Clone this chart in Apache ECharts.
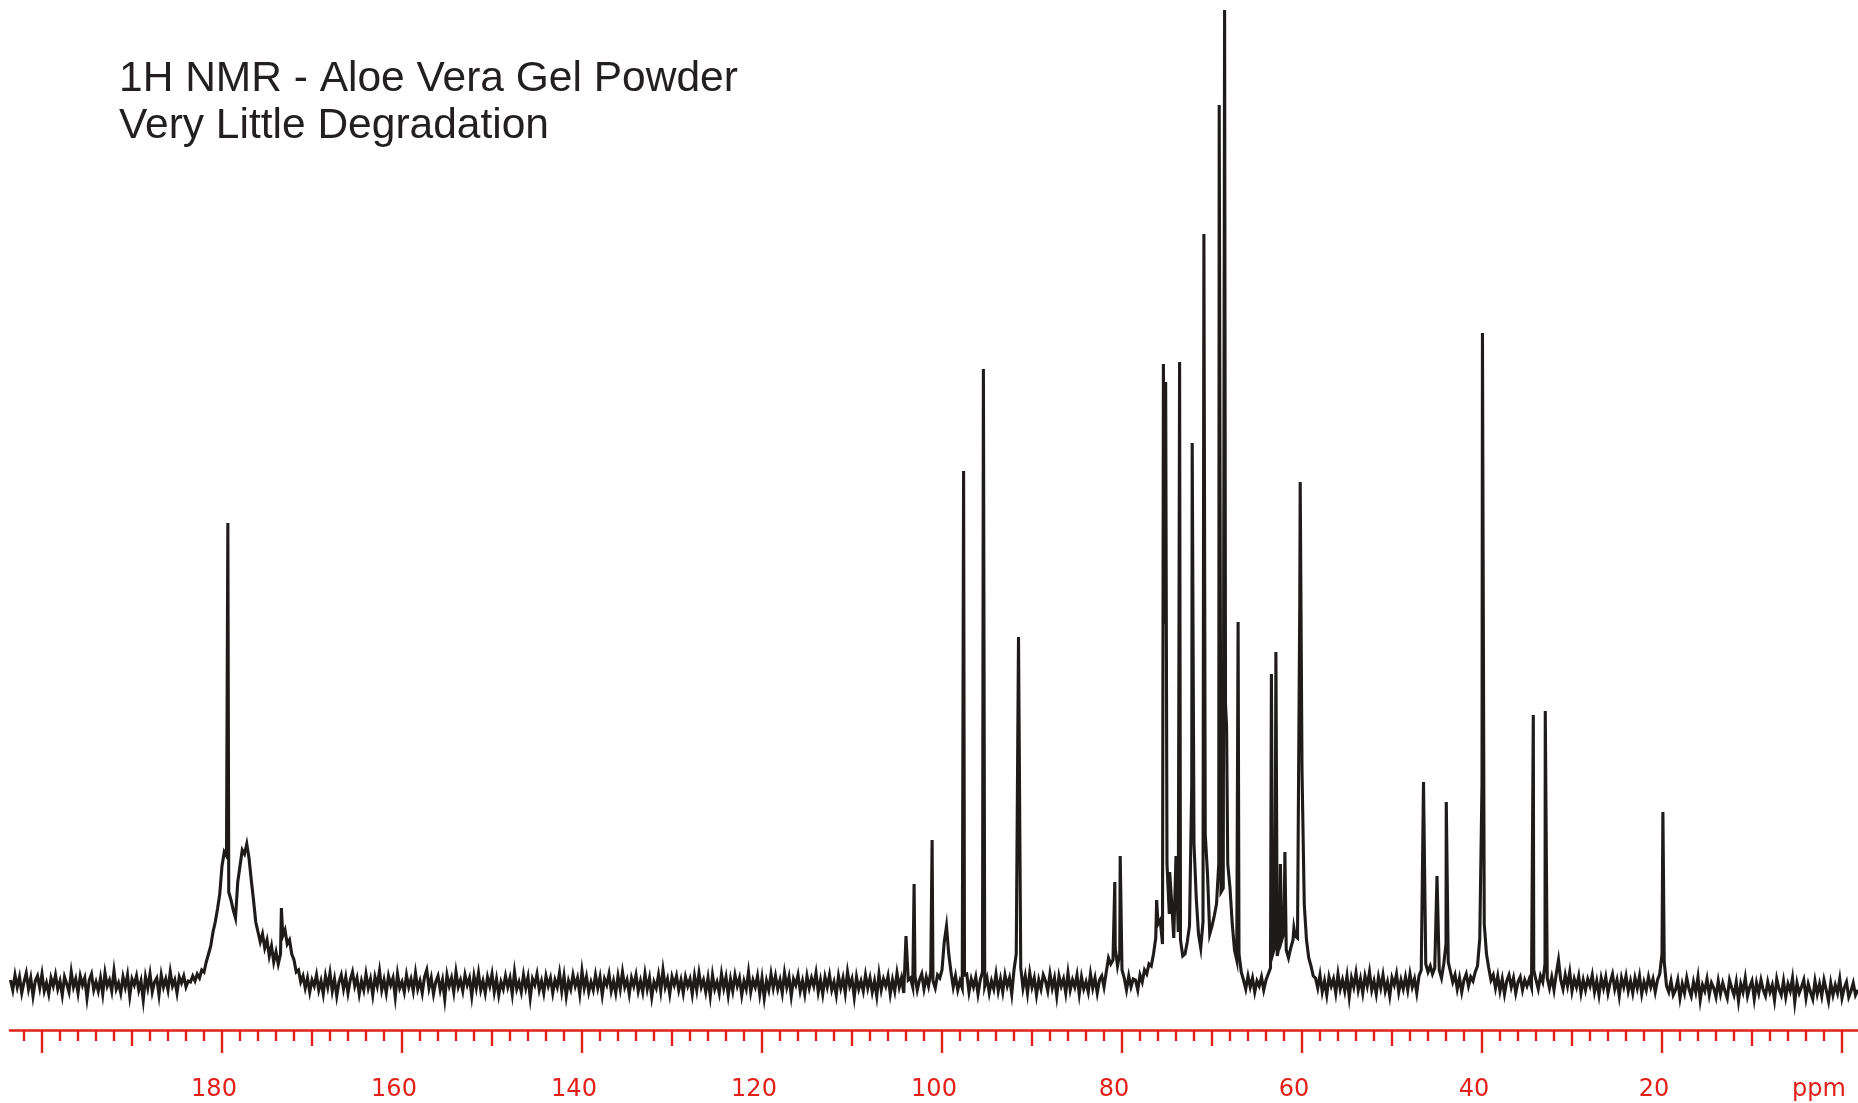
<!DOCTYPE html>
<html>
<head>
<meta charset="utf-8">
<script src="https://cdn.jsdelivr.net/npm/echarts@6/dist/echarts.min.js"></script>
<style>
html,body{margin:0;padding:0;background:#fff;}
#chart{width:1858px;height:1103px;}
</style>
</head>
<body>
<div id="chart"></div>
<script>
// ---- Data ----
const titleLines = ['1H NMR - Aloe Vera Gel Powder', 'Very Little Degradation'];

// Spectrum sampled every 0.25 ppm; each row covers 5 ppm starting at rowStartPpm
const rowStartPpm = 203.5;
const sampleStep = 0.25;
const spectrumRows = [
  [4,-6,9,-3,7,-9,2,11,-5,6,-12,3,8,-4,10,-7,1,-10,6,-2],          // 203.5
  [9,-5,3,-11,7,0,-8,12,-3,5,-9,8,-1,6,-14,4,10,-6,2,-7],          // 198.5
  [6,-10,11,-2,4,-7,13,-5,1,-9,7,-3,9,-12,5,-1,8,-6,3,-16],        // 193.5
  [7,-4,10,-8,2,6,-11,9,-3,5,-6,12,-2,4,-9,7,1,8,-3,3],            // 188.5
  [2,8,3,10,6,14,12,22,30,38,52,62,75,90,118,132,128,92,84,74],    // 183.5
  [66,102,118,134,130,140,126,104,84,62,52,42,50,36,44,28,38,22,32,20], // 178.5
  [30,48,54,40,44,30,24,12,14,2,8,-4,6,-8,4,-2,9,-6,3,-10],        // 173.5
  [8,-3,11,-7,5,-12,2,9,-5,7,-9,4,12,-2,6,-10,3,-6,10,-4],         // 168.5
  [5,-11,7,-2,13,-6,4,-9,8,-1,6,-13,10,-4,2,-8,9,-3,5,-7],         // 163.5
  [11,-5,3,-9,7,14,-4,6,-10,2,8,-6,4,-15,9,-2,6,-8,12,-3],         // 158.5
  [4,-7,9,-1,6,-12,8,-4,11,-6,3,-9,7,-2,10,-8,5,-11,2,-5],         // 153.5
  [8,-3,6,-10,12,-5,2,-8,9,-4,7,-14,5,-1,10,-6,3,-9,8,-2],         // 148.5
  [6,-9,4,-3,11,-7,8,-12,3,-5,9,-2,6,-10,13,-4,7,-8,2,-6],         // 143.5
  [9,-4,7,-11,5,-1,10,-7,3,-9,8,-5,12,-3,4,-10,6,-2,9,-7],         // 138.5
  [3,-8,10,-5,6,-13,2,-4,9,-7,14,-3,5,-10,7,-1,8,-6,4,-9],         // 133.5
  [7,-2,5,-10,8,-6,11,-3,4,-8,6,-12,9,-5,2,-9,10,-4,7,-11],        // 128.5
  [5,-7,9,-2,6,-11,3,-5,12,-8,4,-3,8,-10,6,-14,3,-6,10,-4],        // 123.5
  [8,-5,4,-9,11,-3,7,-12,5,-1,9,-7,3,-10,8,-4,6,-2,11,-8],         // 118.5
  [4,-10,7,-3,9,-6,2,-11,8,-4,6,-9,12,-2,5,-13,7,-5,3,-7],         // 113.5
  [9,-4,6,-8,3,-12,10,-6,5,-2,8,-10,4,-7,11,-3,6,-9,2,4],          // 108.5
  [6,-3,8,-6,4,10,-5,7,-2,12,3,-4,9,6,14,42,58,30,12,-3],          // 103.5
  [8,-6,3,-4,9,10,-8,5,-3,7,-10,4,12,-2,6,-9,3,-5,10,-7],          // 98.5
  [5,-8,9,-2,6,-10,14,30,30,16,-4,8,-9,11,-3,6,-11,4,-5,9],        // 93.5
  [3,-7,10,-4,6,-12,8,-2,5,-9,11,-6,4,-3,9,-10,7,-5,2,-8],         // 88.5
  [10,-4,6,-9,4,8,-3,12,26,20,24,36,18,30,14,6,-6,8,-3,5],         // 83.5
  [4,-6,9,2,14,10,20,18,30,46,60,64,40,360,120,70,84,46,70,52],    // 78.5
  [44,28,30,42,58,200,140,86,50,36,62,150,110,50,58,68,80,120,92,96], // 73.5
  [280,120,96,60,34,24,30,12,4,-5,8,-3,6,-8,3,-2,7,-6,4,10],       // 68.5
  [16,30,38,28,40,44,52,34,26,36,44,48,46,380,214,80,44,26,18,8],  // 63.5
  [6,-4,9,-8,3,-11,7,-2,5,-9,10,-5,4,-7,8,-13,6,-3,11,-6],         // 58.5
  [5,-9,8,-2,12,-6,3,-10,7,-4,9,-7,2,-12,6,-1,10,-8,4,-5],         // 53.5
  [7,-6,10,-3,5,-9,8,14,30,20,12,18,10,16,20,14,6,20,40,22],       // 48.5
  [12,2,9,-5,6,-8,4,10,-2,7,3,12,18,45,200,60,30,16,4,9],          // 43.5
  [-4,8,-7,5,-10,3,9,-3,6,-9,2,7,-6,4,-2,5,-3,14,4,-5],            // 38.5
  [8,2,20,6,-4,7,-6,10,24,4,-5,9,-2,12,-7,5,-3,8,-9,4],            // 33.5
  [-6,5,-2,9,-8,3,-11,6,-4,7,-9,2,10,-5,4,-12,6,-3,8,-7],          // 28.5
  [3,-9,6,-4,8,-10,2,-6,7,-3,5,-8,4,10,30,22,-2,-8,3,-11],         // 23.5
  [-6,4,-14,0,-9,6,-5,-12,2,-8,7,-16,-1,-7,5,-11,1,-4,-13,3],      // 18.5
  [-10,1,-7,-14,4,-4,-11,2,-17,0,-8,6,-12,-3,3,-15,1,-9,4,-6],     // 13.5
  [-12,2,-8,-1,-16,5,-5,-11,3,-13,0,-7,6,-18,1,-9,-3,4,-14,0],     // 8.5
  [-8,-15,3,-10,0,-12,4,-6,-17,1,-11,-1,-9,5,-14,-4,2,-13,-7,1],   // 3.5
  [-11,-6]                                                         // -1.5
];

// Sharp resonance lines: position (ppm) and height
const peakPpm = [179.35,173.4,104.0,103.1,101.1,97.6,95.4,91.5,80.8,80.2,76.15,75.4,75.15,74.7,74.0,73.6,72.2,70.9,69.2,68.6,68.38,67.1,63.4,62.9,62.4,61.9,60.9,60.2,46.5,45.0,43.97,39.95,34.3,32.97,19.9];
const peakHeight = [461,76,48,100,144,513,615,347,102,128,84,620,602,112,128,622,541,750,879,974,257,362,310,332,120,132,56,502,202,108,182,651,269,273,172];

// Axis ticks / labels (ppm)
const majorTicks = [200,180,160,140,120,100,80,60,40,20,0];
const mediumTicks = [190,170,150,130,110,90,70,50,30,10];
const labelValues = [180,160,140,120,100,80,60,40,20,0];
const labelTexts = ['180','160','140','120','100','80','60','40','20','ppm'];
const minorTickStep = 2;
const axisMax = 203.556, axisMin = -1.778;

// ---- Build series ----
const pointMap = new Map();
spectrumRows.forEach((row, r) => {
  row.forEach((v, j) => {
    const ppm = rowStartPpm - r * 5 - j * sampleStep;
    pointMap.set(ppm.toFixed(2), [ppm, v]);
  });
});
peakPpm.forEach((p, i) => pointMap.set(p.toFixed(2), [p, peakHeight[i]]));
const spectrum = Array.from(pointMap.values()).sort((a, b) => b[0] - a[0]);

const minorTicks = [];
for (let v = 0; v <= axisMax; v += minorTickStep) {
  if (v % 10 !== 0) minorTicks.push(v);
}

const RED = '#e2201a';
const INK = '#1f1b1b';

function makeXAxis(ticks, len, withLine, withLabels) {
  return {
    type: 'value', gridIndex: 0, position: 'bottom', inverse: true,
    min: axisMin, max: axisMax,
    splitLine: { show: false },
    axisLine: { show: withLine, onZero: false, lineStyle: { color: RED, width: 2.6 } },
    axisTick: { show: true, inside: false, length: len, customValues: ticks,
                lineStyle: { color: RED, width: 2.4 } },
    axisLabel: withLabels ? {
      show: true, customValues: labelValues, margin: 46,
      formatter: function (v) {
        const idx = labelValues.indexOf(v);
        const t = idx >= 0 ? labelTexts[idx] : String(v);
        return t === 'ppm' ? '{p|' + t + '}' : '{n|' + t + '}';
      },
      rich: {
        n: { fontFamily: 'DejaVu Sans', fontSize: 24, color: RED, padding: [0, 16, 0, 0], lineHeight: 28 },
        p: { fontFamily: 'DejaVu Sans', fontSize: 24, color: RED, padding: [0, 46, 0, 0], lineHeight: 28 }
      }
    } : { show: false }
  };
}

const chart = echarts.init(document.getElementById('chart'), null, { renderer: 'canvas', width: 1858, height: 1103 });
chart.setOption({
  animation: false,
  backgroundColor: '#ffffff',
  title: {
    text: titleLines.join('\n'),
    left: 114, top: 51,
    textStyle: { fontFamily: 'Liberation Sans', fontSize: 42.5, fontWeight: 'normal', color: '#231f20', lineHeight: 47 }
  },
  grid: { left: 10, right: 0, top: 0, bottom: 73, containLabel: false, outerBoundsMode: 'none' },
  xAxis: [
    makeXAxis(majorTicks, 23, true, true),
    makeXAxis(mediumTicks, 16, false, false),
    makeXAxis(minorTicks, 11, false, false)
  ],
  yAxis: { type: 'value', min: -46, max: 984, show: false },
  series: [{
    type: 'line', xAxisIndex: 0, yAxisIndex: 0,
    data: spectrum, showSymbol: false, symbol: 'none', sampling: false,
    lineStyle: { color: INK, width: 3.1, join: 'miter' },
    clip: false
  }]
});
</script>
</body>
</html>
